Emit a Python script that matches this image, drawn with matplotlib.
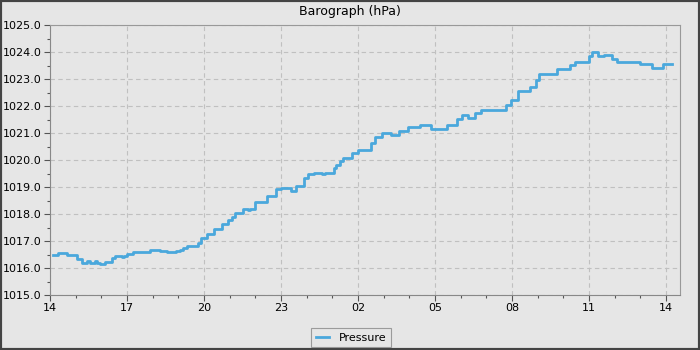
import matplotlib.pyplot as plt
from matplotlib.patches import Rectangle
from matplotlib.ticker import MultipleLocator

# hours since 14:00 on the first day (start of each reading), pressure in hPa
hours = [0.12, 0.3, 0.65, 1.05, 1.25, 1.45, 1.55, 1.75, 1.85, 1.95, 2.15, 2.4,
         2.55, 2.8, 2.9, 3.0, 3.25, 3.9, 4.3, 4.55, 4.9, 5.05, 5.2, 5.35, 5.75,
         5.88, 6.1, 6.4, 6.7, 6.95, 7.1, 7.2, 7.5, 7.7, 7.8, 8.0, 8.45, 8.8, 9.0,
         9.4, 9.6, 9.9, 10.05, 10.3, 10.6, 10.7, 11.05, 11.15, 11.3, 11.4, 11.75,
         12.0, 12.5, 12.65, 12.95, 13.3, 13.6, 13.95, 14.4, 14.85, 15.45, 15.85,
         16.05, 16.3, 16.55, 16.8, 17.75, 17.95, 18.25, 18.7, 18.95, 19.05, 19.75,
         20.25, 20.45, 21.0, 21.1, 21.35, 21.6, 21.9, 22.1, 23.0, 23.45, 23.9,
         24.25]
pressure = [1016.48, 1016.54, 1016.48, 1016.32, 1016.2, 1016.26, 1016.2, 1016.26,
            1016.2, 1016.16, 1016.22, 1016.37, 1016.44, 1016.4, 1016.44, 1016.52,
            1016.6, 1016.67, 1016.63, 1016.6, 1016.63, 1016.67, 1016.73, 1016.81,
            1016.94, 1017.12, 1017.26, 1017.44, 1017.63, 1017.78, 1017.9, 1018.04,
            1018.19, 1018.15, 1018.19, 1018.46, 1018.67, 1018.93, 1018.96, 1018.86,
            1019.04, 1019.33, 1019.48, 1019.53, 1019.48, 1019.53, 1019.7, 1019.81,
            1019.97, 1020.09, 1020.25, 1020.37, 1020.62, 1020.86, 1020.99, 1020.91,
            1021.09, 1021.21, 1021.31, 1021.15, 1021.28, 1021.51, 1021.66, 1021.57,
            1021.73, 1021.85, 1022.04, 1022.22, 1022.57, 1022.72, 1022.96, 1023.17,
            1023.36, 1023.52, 1023.64, 1023.85, 1024.0, 1023.85, 1023.9, 1023.73,
            1023.64, 1023.55, 1023.42, 1023.54, 1023.54]
tick_hours = [0, 3, 6, 9, 12, 15, 18, 21, 24]
tick_labels = ["14", "17", "20", "23", "02", "05", "08", "11", "14"]

bg = "#e6e6e6"
line_color = "#4aa8dc"

fig = plt.figure(figsize=(7, 3.5), dpi=100, facecolor=bg)
ax = fig.add_axes([50 / 700, 55 / 350, 630 / 700, 270 / 350])
ax.set_facecolor(bg)

ax.plot(hours, pressure, drawstyle="steps-post", color=line_color, lw=2.0,
        label="Pressure")

ax.set_xlim(0, 630 / 25.667)
ax.set_ylim(1015, 1025)
ax.set_xticks(tick_hours)
ax.set_xticklabels(tick_labels)
ax.xaxis.set_minor_locator(MultipleLocator(1))
ax.yaxis.set_major_locator(MultipleLocator(1))
ax.yaxis.set_minor_locator(MultipleLocator(0.5))
ax.yaxis.set_major_formatter(lambda v, p: f"{v:.1f}")

ax.tick_params(which="major", length=4, width=0.8, color="#555555",
               labelsize=8, pad=2)
ax.tick_params(which="minor", length=2, width=0.8, color="#555555")
ax.grid(True, which="major", ls=(0, (4, 3)), color="#c0c0c0", lw=0.8)
for side in ["left", "bottom"]:
    ax.spines[side].set_color("#888888")
for side in ["top", "right"]:
    ax.spines[side].set_color("#999999")
    ax.spines[side].set_linewidth(0.8)

fig.text(350 / 700, 1 - 12 / 350, "Barograph (hPa)", ha="center", va="center",
         fontsize=9)

leg = fig.legend(loc="lower center", bbox_to_anchor=(351 / 700, 3 / 350),
                 borderaxespad=0, fontsize=8, frameon=True, fancybox=False,
                 handlelength=1.2, borderpad=0.4, handletextpad=0.9)
leg.get_frame().set_facecolor(bg)
leg.get_frame().set_edgecolor("#888888")
leg.get_frame().set_linewidth(0.8)

# dark outer border of the image
fig.patches.append(Rectangle((0, 0), 1, 1, transform=fig.transFigure,
                             fill=False, edgecolor="#444444", lw=3))

fig.savefig("out.png", dpi=100, facecolor=bg)
